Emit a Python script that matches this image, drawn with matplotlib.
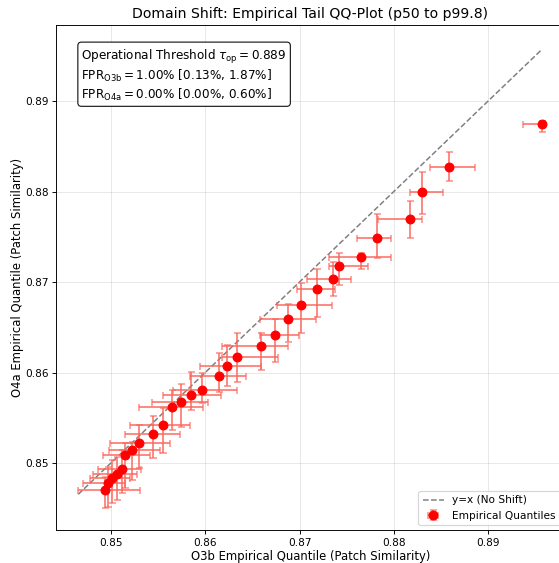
import numpy as np
import matplotlib.pyplot as plt

# --- quantile pairs (p50 .. p99.8) ---
o3b_q = [0.84937, 0.84965, 0.85011, 0.85067, 0.85116, 0.85151, 0.85222, 0.85299,
         0.85444, 0.85553, 0.85649, 0.85744, 0.85847, 0.85963, 0.86146, 0.86235,
         0.86337, 0.86587, 0.86743, 0.86876, 0.87014, 0.87183, 0.87360, 0.87423,
         0.87656, 0.87825, 0.88167, 0.88298, 0.88580, 0.89568]
o4a_q = [0.84702, 0.84782, 0.84834, 0.84878, 0.84930, 0.85092, 0.85140, 0.85224,
         0.85324, 0.85423, 0.85615, 0.85677, 0.85751, 0.85810, 0.85961, 0.86069,
         0.86175, 0.86290, 0.86414, 0.86588, 0.86749, 0.86923, 0.87036, 0.87173,
         0.87273, 0.87486, 0.87696, 0.87998, 0.88271, 0.88743]

# bootstrap CI half-widths (below / above the estimate)
o3b_err_lo = [0.00283, 0.00258, 0.00233, 0.00254, 0.00251, 0.00233, 0.00240, 0.00310,
              0.00296, 0.00352, 0.00349, 0.00313, 0.00293, 0.00304, 0.00304, 0.00293,
              0.00159, 0.00410, 0.00166, 0.00299, 0.00258, 0.00212, 0.00283, 0.00106,
              0.00339, 0.00219, 0.00339, 0.00124, 0.00194, 0.00198]
o3b_err_hi = [0.00370, 0.00183, 0.00190, 0.00205, 0.00208, 0.00261, 0.00296, 0.00325,
              0.00286, 0.00283, 0.00328, 0.00286, 0.00317, 0.00374, 0.00289, 0.00360,
              0.00434, 0.00289, 0.00254, 0.00299, 0.00335, 0.00198, 0.00187, 0.00307,
              0.00314, 0.00145, 0.00127, 0.00225, 0.00279, 0.00000]
o4a_err_lo = [0.00202, 0.00265, 0.00280, 0.00287, 0.00265, 0.00371, 0.00328, 0.00283,
              0.00272, 0.00316, 0.00254, 0.00276, 0.00166, 0.00147, 0.00173, 0.00221,
              0.00276, 0.00262, 0.00295, 0.00254, 0.00313, 0.00306, 0.00191, 0.00207,
              0.00133, 0.00224, 0.00210, 0.00243, 0.00155, 0.00082]
o4a_err_hi = [0.00147, 0.00177, 0.00199, 0.00191, 0.00213, 0.00126, 0.00095, 0.00196,
              0.00199, 0.00181, 0.00188, 0.00199, 0.00257, 0.00180, 0.00251, 0.00232,
              0.00265, 0.00144, 0.00173, 0.00166, 0.00240, 0.00221, 0.00188, 0.00144,
              0.00044, 0.00262, 0.00199, 0.00214, 0.00169, 0.00040]

TAU_OP = 0.889
FPR_O3B = (1.00, 0.13, 1.87)
FPR_O4A = (0.00, 0.00, 0.60)

x = np.array(o3b_q)
y = np.array(o4a_q)
xerr = np.array([o3b_err_lo, o3b_err_hi])
yerr = np.array([o4a_err_lo, o4a_err_hi])

DPI = 84
fig = plt.figure(figsize=(559 / DPI, 563 / DPI), dpi=DPI)
ax = fig.add_axes([56 / 559, 33 / 563, 509 / 559, 505 / 563])

# identity reference line
lo = (x - xerr[0]).min()
hi = x.max()
ax.plot([lo, hi], [lo, hi], color='gray', linestyle='--', linewidth=1.3, label='y=x (No Shift)')

ax.errorbar(x, y, xerr=xerr, yerr=yerr, fmt='o', color='red', markersize=7.5,
            ecolor=(0.98, 0.4, 0.36, 0.75), elinewidth=1.7, capsize=3, capthick=1.3,
            label='Empirical Quantiles')

ax.set_xlim(0.84418, 0.89815)
ax.set_ylim(0.8426, 0.8984)
ax.set_xticks([0.85, 0.86, 0.87, 0.88, 0.89])
ax.set_yticks([0.85, 0.86, 0.87, 0.88, 0.89])
ax.tick_params(labelsize=9, pad=3)

ax.set_title("Domain Shift: Empirical Tail QQ-Plot (p50 to p99.8)", fontsize=12)
ax.set_xlabel("O3b Empirical Quantile (Patch Similarity)", labelpad=2)
ax.set_ylabel("O4a Empirical Quantile (Patch Similarity)", labelpad=1)
ax.grid(True, alpha=0.3)
ax.legend(loc='lower right', fontsize=9)

info = (rf"Operational Threshold $\tau_{{\mathrm{{op}}}} = {TAU_OP:.3f}$" "\n"
        rf"FPR$_{{\mathrm{{O3b}}}} = {FPR_O3B[0]:.2f}\%$ [{FPR_O3B[1]:.2f}%, {FPR_O3B[2]:.2f}%]" "\n"
        rf"FPR$_{{\mathrm{{O4a}}}} = {FPR_O4A[0]:.2f}\%$ [{FPR_O4A[1]:.2f}%, {FPR_O4A[2]:.2f}%]")
ax.text(0.05, 0.955, info, transform=ax.transAxes, fontsize=10.3, va='top', ha='left',
        bbox=dict(boxstyle='round', facecolor='white', edgecolor='black', alpha=0.9))

fig.savefig('out.png', dpi=DPI)
